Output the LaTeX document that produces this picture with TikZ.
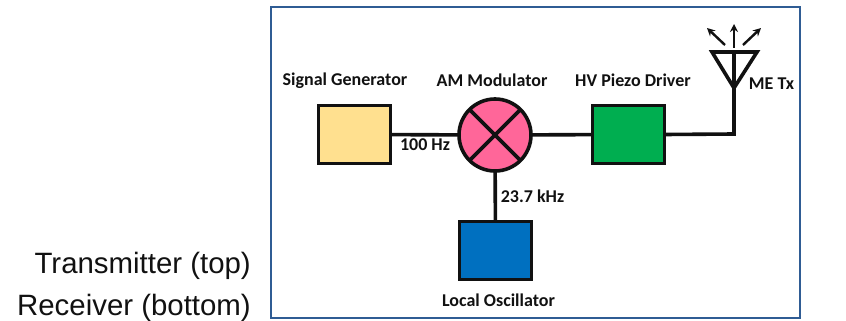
\documentclass[tikz,border=0pt]{standalone}
\usepackage{fontspec}
\setmainfont{Carlito}
\newfontfamily\sidefont{Liberation Sans}
\usetikzlibrary{arrows.meta}
\definecolor{framecol}{HTML}{2F5C94}
\definecolor{sgcol}{HTML}{FFE08F}
\definecolor{modcol}{HTML}{FF6699}
\definecolor{drvcol}{HTML}{00AE50}
\definecolor{locol}{HTML}{0070C0}
\definecolor{inkcol}{HTML}{111111}
\tikzset{
  blockbox/.style={draw=inkcol,line width=3.6pt,minimum width=72pt,minimum height=58pt,inner sep=0pt,outer sep=0pt},
  wire/.style={draw=inkcol,line width=3.6pt},
  thinwire/.style={draw=inkcol,line width=2.4pt,-{Stealth[length=8pt,width=8pt]}},
  lab/.style={font=\fontsize{18}{20}\selectfont\bfseries,text=inkcol,inner sep=0pt},
  sidelab/.style={font=\sidefont\fontsize{29.4}{31}\selectfont,text=inkcol,inner sep=0pt,anchor=base east},
}
\begin{document}
\begin{tikzpicture}[x=1pt,y=-1pt]
\useasboundingbox (0,0) rectangle (846,321);
\node[draw=framecol,line width=2pt,minimum width=529pt,minimum height=310pt,inner sep=0pt] (frame) at (535,162.5) {};
\node[blockbox,fill=sgcol] (sg) at (354.5,134.5) {};
\node[blockbox,fill=drvcol] (drv) at (628.5,134.5) {};
\node[blockbox,fill=locol] (lo) at (495.5,250.5) {};
\node[circle,draw=inkcol,line width=3.6pt,fill=modcol,minimum size=72pt,inner sep=0pt,outer sep=0pt] (mod) at (495,135) {};
\draw[wire] (mod.45) -- (mod.225);
\draw[wire] (mod.135) -- (mod.315);
\draw[wire] (sg) -- (mod);
\draw[wire] (mod) -- (drv);
\draw[wire] (mod) -- (lo);
\coordinate (apex) at (734,88);
\coordinate (tl) at (712,52);
\coordinate (tr) at (757,52);
\coordinate (tm) at (734,52);
\coordinate (corner) at (734,134);
\draw[wire,line join=miter] (tl) -- (tr) -- (apex) -- cycle;
\draw[wire] (tm) -- (corner);
\draw[wire,line join=miter] (drv.east) -- (corner) -- (apex);
\coordinate (a0) at (734,48);
\coordinate (a1) at (734,24);
\coordinate (b0) at (725,45);
\coordinate (b1) at (707,28);
\coordinate (c0) at (743,45);
\coordinate (c1) at (761,28);
\draw[thinwire] (a0) -- (a1);
\draw[thinwire] (b0) -- (b1);
\draw[thinwire] (c0) -- (c1);
\node[lab] (t1) at (345,81) {Signal Generator};
\node[lab] (t2) at (492,80) {AM Modulator};
\node[lab] (t3) at (633,80.5) {HV Piezo Driver};
\node[lab] (t4) at (771.5,84) {ME Tx};
\node[lab] (t5) at (425,145) {100 Hz};
\node[lab] (t6) at (532.5,196) {23.7 kHz};
\node[lab] (t7) at (498.5,300) {Local Oscillator};
\node[sidelab] (s1) at (251,273) {Transmitter (top)};
\node[sidelab] (s2) at (251,315) {Receiver (bottom)};
\end{tikzpicture}
\end{document}
